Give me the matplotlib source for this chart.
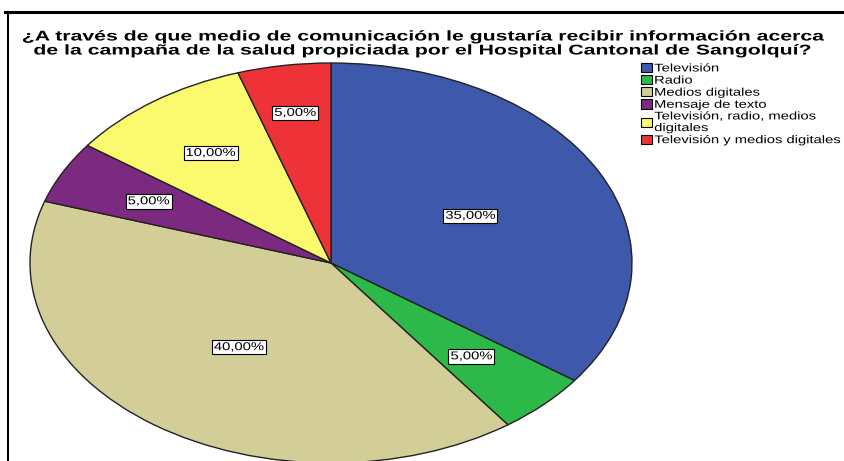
import matplotlib.pyplot as plt
from matplotlib.lines import Line2D
from matplotlib.patheffects import AbstractPathEffect
from matplotlib.transforms import Affine2D
import numpy as np

# ===============================
# DATA
# ===============================
categories = [
    "Televisión",
    "Radio",
    "Medios digitales",
    "Mensaje de texto",
    "Televisión, radio, medios\ndigitales",
    "Televisión y medios digitales",
]
values = [35, 5, 40, 5, 10, 5]
colors = ["#3E58AC", "#2DB84A", "#D3CE97", "#7B2A7F", "#FBF96E", "#EE3338"]
label_dist = [0.52, 0.66, 0.52, 0.68, 0.68, 0.76]

TITLE = ("¿A través de que medio de comunicación le gustaría recibir información acerca\n"
         "de la campaña de la salud propiciada por el Hospital Cantonal de Sangolquí?")

plt.rcParams["font.family"] = ["Liberation Sans", "DejaVu Sans"]


# the reference picture is stretched sideways, so stretch the text the same way
class HStretch(AbstractPathEffect):
    def __init__(self, sx, anchor="center"):
        super().__init__()
        self.sx = sx
        self.anchor = anchor

    def draw_path(self, renderer, gc, tpath, affine, rgbFace=None):
        ext = tpath.transformed(affine).get_extents()
        x0 = ext.x0 if self.anchor == "left" else (ext.x0 + ext.x1) / 2
        a = affine + Affine2D().translate(-x0, 0).scale(self.sx, 1).translate(x0, 0)
        renderer.draw_path(gc, tpath, a, rgbFace)


# ===============================
# PLOT
# ===============================
fig = plt.figure(figsize=(8.44, 4.61), dpi=100)

# frame lines (top + left)
fig.add_artist(Line2D([5 / 844, 1], [1 - 12 / 461, 1 - 12 / 461], color="black", lw=2.2))
fig.add_artist(Line2D([8 / 844, 8 / 844], [0, 1 - 12 / 461], color="black", lw=1.5))

fig.text(0.500, 1 - 43.5 / 461, TITLE, ha="center", va="center",
         fontsize=10.2, fontweight="bold", linespacing=1.0,
         path_effects=[HStretch(1.5)])

ax = fig.add_axes([30 / 844, -2 / 461, 602 / 844, 400 / 461])

wedges, _ = ax.pie(
    values,
    colors=colors,
    startangle=90,
    counterclock=False,
    wedgeprops=dict(edgecolor="#222222", linewidth=1.0),
)
ax.set_aspect("auto")
ax.set_xlim(-1, 1)
ax.set_ylim(-1, 1)
ax.axis("off")

# annotate
for w, v, d in zip(wedges, values, label_dist):
    ang = np.deg2rad((w.theta1 + w.theta2) / 2)
    t = ax.text(
        d * np.cos(ang), d * np.sin(ang),
        f"{v:.2f}%".replace(".", ","),
        ha="center", va="center", fontsize=8.2,
        bbox=dict(boxstyle="square,pad=0.2", fc="white", ec="black", lw=0.8),
        path_effects=[HStretch(1.3)],
    )
    t.get_bbox_patch().set_path_effects([HStretch(1.25)])

leg = fig.legend(
    wedges, categories,
    loc="upper left", bbox_to_anchor=(641 / 844, 1 - 63 / 461),
    frameon=False, fontsize=8,
    handlelength=1.0, handleheight=0.9, handletextpad=0.2,
    labelspacing=0.15, borderpad=0, borderaxespad=0,
)
for h in leg.legend_handles:
    h.set_edgecolor("black")
    h.set_linewidth(0.8)
for txt in leg.get_texts():
    txt.set_path_effects([HStretch(1.33, "left")])

fig.savefig("out.png", dpi=100)
